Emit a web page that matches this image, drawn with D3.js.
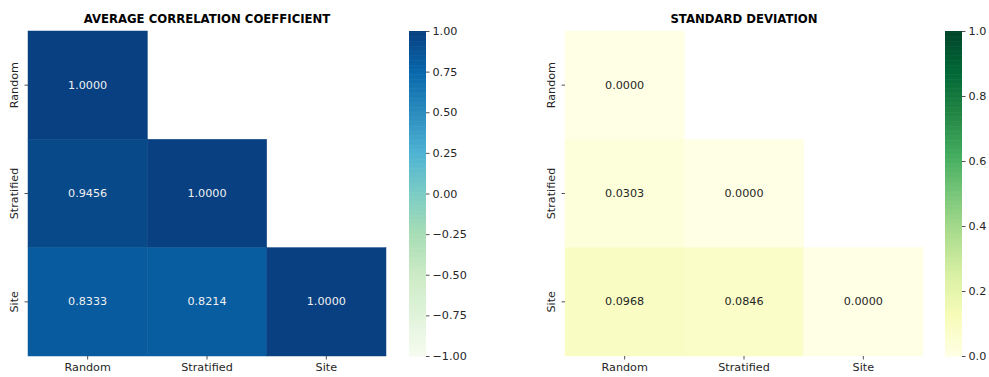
<!DOCTYPE html>
<html>
<head>
<meta charset="utf-8">
<script src="https://cdn.jsdelivr.net/npm/d3@7/dist/d3.min.js"></script>
<style>
  html, body { margin: 0; padding: 0; background: #fff; }
  svg { display: block; font-family: "DejaVu Sans", sans-serif; }
</style>
</head>
<body>
<svg id="chart" width="989" height="377"></svg>
<script>
// Sampling methods compared in both matrices
const methods = ["Random", "Stratified", "Site"];

// Lower-triangle values (row-major; null = masked upper triangle)
const correlationValues = [
  [1.0000, null,   null],
  [0.9456, 1.0000, null],
  [0.8333, 0.8214, 1.0000]
];
const stdValues = [
  [0.0000, null,   null],
  [0.0303, 0.0000, null],
  [0.0968, 0.0846, 0.0000]
];

const correlationTicks = [-1.00, -0.75, -0.50, -0.25, 0.00, 0.25, 0.50, 0.75, 1.00];
const stdTicks = [0.0, 0.2, 0.4, 0.6, 0.8, 1.0];

const svg = d3.select("#chart");
const textColor = "#262626";

// Piecewise-linear colormap through the 9-class ColorBrewer scheme
function brewerMap(scheme, lo, hi) {
  const n = scheme.length;
  const dom = d3.range(n).map(i => lo + (hi - lo) * i / (n - 1));
  return d3.scaleLinear().domain(dom).range(scheme).interpolate(d3.interpolateRgb).clamp(true);
}

function fmtMinus(s) { return s.replace("-", "\u2212"); }

function drawPanel(opts) {
  const { values, title, x0, x1, y0, y1, color, lo, hi, ticks, tickFmt, cbX, cbW, textFn } = opts;
  const g = svg.append("g");

  const x = d3.scaleBand().domain(methods).range([x0, x1]);
  const y = d3.scaleBand().domain(methods).range([y0, y1]);

  const cells = [];
  values.forEach((row, i) => row.forEach((v, j) => {
    if (v !== null) cells.push({ r: methods[i], c: methods[j], v });
  }));

  g.selectAll("rect.cell").data(cells).enter().append("rect")
    .attr("class", "cell")
    .attr("x", d => x(d.c))
    .attr("y", d => y(d.r))
    .attr("width", x.bandwidth())
    .attr("height", y.bandwidth())
    .attr("fill", d => color(d.v))
    .attr("stroke", d => color(d.v))
    .attr("stroke-width", 0.5);

  g.selectAll("text.annot").data(cells).enter().append("text")
    .attr("class", "annot")
    .attr("x", d => x(d.c) + x.bandwidth() / 2)
    .attr("y", d => y(d.r) + y.bandwidth() / 2)
    .attr("text-anchor", "middle")
    .attr("dominant-baseline", "central")
    .attr("font-size", 11.2)
    .attr("fill", d => textFn(d.v))
    .text(d => d.v.toFixed(4));

  // Bottom axis
  const xAxis = g.append("g").attr("transform", `translate(0,${y1})`)
    .call(d3.axisBottom(x).tickSize(3.5).tickPadding(4));
  xAxis.select(".domain").remove();
  xAxis.selectAll("line").attr("stroke", textColor).attr("stroke-width", 0.8);
  xAxis.selectAll("text").attr("font-size", 11.2).attr("fill", textColor)
    .attr("font-family", "DejaVu Sans, sans-serif");

  // Left axis with rotated labels
  const yAxis = g.append("g").attr("transform", `translate(${x0},0)`)
    .call(d3.axisLeft(y).tickSize(3.5).tickPadding(4));
  yAxis.select(".domain").remove();
  yAxis.selectAll("line").attr("stroke", textColor).attr("stroke-width", 0.8);
  yAxis.selectAll("text")
    .attr("font-size", 11.2).attr("fill", textColor)
    .attr("font-family", "DejaVu Sans, sans-serif")
    .attr("text-anchor", "middle")
    .attr("dy", null)
    .attr("x", null)
    .attr("transform", "translate(-14,0) rotate(-90)")
    .attr("dominant-baseline", "central");

  // Title
  g.append("text")
    .attr("x", (x0 + x1) / 2)
    .attr("y", y0 - 8)
    .attr("text-anchor", "middle")
    .attr("font-size", 11.7)
    .attr("font-weight", "bold")
    .attr("fill", "#000")
    .text(title);

  // Colorbar
  const cb = d3.scaleLinear().domain([lo, hi]).range([y1, y0]);
  const steps = d3.range(0, 256);
  const stepH = (y1 - y0) / 256;
  g.selectAll("rect.cb").data(steps).enter().append("rect")
    .attr("class", "cb")
    .attr("x", cbX)
    .attr("y", i => y1 - (i + 1) * stepH)
    .attr("width", cbW)
    .attr("height", stepH + 0.6)
    .attr("fill", i => color(lo + (hi - lo) * (i + 0.5) / 256));

  const cAxis = g.append("g").attr("transform", `translate(${cbX + cbW},0)`)
    .call(d3.axisRight(cb).tickValues(ticks).tickFormat(tickFmt).tickSize(3.5).tickPadding(3));
  cAxis.select(".domain").remove();
  cAxis.selectAll("line").attr("stroke", textColor).attr("stroke-width", 0.8);
  cAxis.selectAll("text").attr("font-size", 11.2).attr("fill", textColor)
    .attr("font-family", "DejaVu Sans, sans-serif");
}

const gnbu = brewerMap(d3.schemeGnBu[9], -1, 1);
const ylgn = brewerMap(d3.schemeYlGn[9], 0, 1);

drawPanel({
  values: correlationValues,
  title: "AVERAGE CORRELATION COEFFICIENT",
  x0: 28, x1: 386, y0: 31, y1: 356,
  color: gnbu, lo: -1, hi: 1,
  ticks: correlationTicks,
  tickFmt: d => fmtMinus(d3.format(".2f")(d)),
  cbX: 409, cbW: 17,
  textFn: v => v > 0.2 ? "#f0f0f0" : textColor
});

drawPanel({
  values: stdValues,
  title: "STANDARD DEVIATION",
  x0: 565, x1: 923, y0: 31, y1: 356,
  color: ylgn, lo: 0, hi: 1,
  ticks: stdTicks,
  tickFmt: d => d3.format(".1f")(d),
  cbX: 945, cbW: 17,
  textFn: v => v > 0.6 ? "#f0f0f0" : textColor
});
</script>
</body>
</html>
